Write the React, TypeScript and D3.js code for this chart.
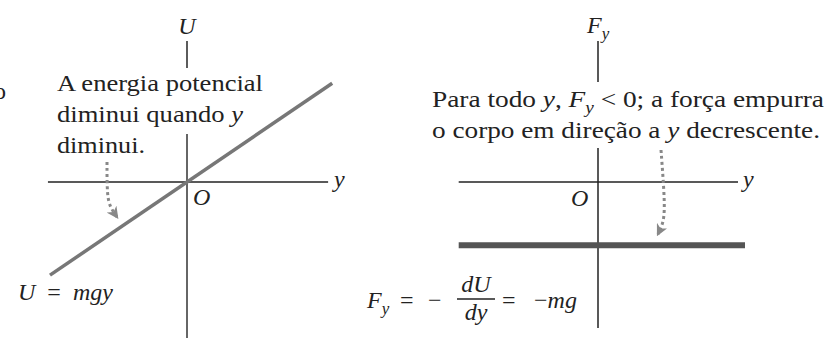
import React, { useEffect, useRef } from "react";
import * as d3 from "d3";

// ---- data (physics values, in arbitrary units) ----
const yRange = [-1.0, 1.06];          // y extent of U = mgy line (left panel)
const mgValue = [0.68];               // m*g
const forceYRange = [-0.995, 1.05];   // y extent of Fy = -mg line (right panel)
const leftNote = ["A energia potencial", "diminui quando ", "diminui."];
const rightNote = ["Para todo ", ", ", " < 0; a força empurra", "o corpo em direção a ", " decrescente."];

const W = 833, H = 339;
const FS = 24;
const FAMILY = "\"Liberation Serif\", Tinos, \"Times New Roman\", FreeSerif, \"Noto Serif\", \"DejaVu Serif\"";

type Part = { t: string; i?: boolean; sub?: boolean; up?: boolean };

export default function App() {
  const ref = useRef<SVGSVGElement | null>(null);

  useEffect(() => {
    const svg = d3.select(ref.current);
    svg.selectAll("*").remove();
    const mg = mgValue[0];
    const lx = d3.scaleLinear().domain([0, 1]).range([187, 324]);
    const ly = d3.scaleLinear().domain([0, 1]).range([182, 45]);
    const rx = d3.scaleLinear().domain([0, 1]).range([598, 738]);
    const ry = d3.scaleLinear().domain([0, 1]).range([182, 89]);
    const uLine = d3.line<number>().x((y) => lx(y)).y((y) => ly(mg * y));
    const fLine = d3.line<number>().x((y) => rx(y)).y(() => ry(-mg));
    const curve = d3.line<[number, number]>().curve(d3.curveBasis);

    svg.append("rect").attr("width", W).attr("height", H).attr("fill", "#fff");
    const defs = svg.append("defs");
    defs.append("marker").attr("id", "ah").attr("viewBox", "0 0 10 10").attr("refX", 8).attr("refY", 5)
      .attr("markerWidth", 4).attr("markerHeight", 4).attr("orient", "auto")
      .append("path").attr("d", "M0,0 L10,5 L0,10 L3,5 Z").attr("fill", "#888");

    const text = (x: number, y: number, parts: Part[], anchor = "start", len = 0) => {
      const t = svg.append("text").attr("x", x).attr("y", y).attr("text-anchor", anchor)
        .style("font-family", FAMILY).style("font-size", `${FS}px`).attr("fill", "#222");
      if (len) t.attr("textLength", len).attr("lengthAdjust", "spacingAndGlyphs");
      parts.forEach((p) => {
        const s = t.append("tspan").text(p.t);
        if (p.i) s.style("font-style", "italic");
        if (p.sub) s.style("font-size", "17px").attr("dy", 6);
        if (p.up) s.attr("dy", -6);
      });
      return t;
    };
    const line = (x1: number, y1: number, x2: number, y2: number, c: string, w: number) =>
      svg.append("line").attr("x1", x1).attr("y1", y1).attr("x2", x2).attr("y2", y2).attr("stroke", c).attr("stroke-width", w);

    // clipped letter at far left
    text(-6, 99, [{ t: "o" }]);

    // ---------- LEFT PANEL ----------
    text(187, 34, [{ t: "U", i: true }], "middle");
    line(187, 41, 187, 68, "#333", 1.6);
    line(187, 134, 187, 338, "#666", 2);
    line(lx(-1.015), 182, lx(1.03), 182, "#222", 1.5);
    text(334, 187, [{ t: "y", i: true }]);
    text(193, 205, [{ t: "O", i: true }]);
    svg.append("path").attr("d", uLine(yRange) || "").attr("stroke", "#777").attr("stroke-width", 3.5).attr("fill", "none");
    text(57, 91, [{ t: leftNote[0] }], "start", 206);
    text(57, 122, [{ t: leftNote[1] }, { t: "y", i: true }], "start", 186);
    text(57, 153, [{ t: leftNote[2] }], "start", 88);
    svg.append("path").attr("d", curve([[107, 162], [107, 195], [110, 207], [117, 217]]) || "")
      .attr("stroke", "#888").attr("stroke-width", 3).attr("stroke-dasharray", "3 3").attr("fill", "none")
      .attr("marker-end", "url(#ah)");
    text(18, 300, [{ t: "U", i: true }, { t: "  =  " }, { t: "mgy", i: true }]).attr("xml:space", "preserve").style("white-space", "pre");

    // ---------- RIGHT PANEL ----------
    text(587, 33, [{ t: "F", i: true }, { t: "y", i: true, sub: true }]);
    line(598, 41, 598, 82, "#222", 1.5);
    line(598, 148, 598, 328, "#222", 1.5);
    line(rx(-0.995), 182, rx(1.0), 182, "#222", 1.5);
    text(743, 187, [{ t: "y", i: true }]);
    text(571, 206, [{ t: "O", i: true }]);
    svg.append("path").attr("d", fLine(forceYRange) || "").attr("stroke", "#555").attr("stroke-width", 6).attr("fill", "none");
    text(432, 107, [{ t: rightNote[0] }, { t: "y", i: true }, { t: rightNote[1] }, { t: "F", i: true },
      { t: "y", i: true, sub: true }, { t: rightNote[2], up: true }], "start", 392);
    text(432, 138, [{ t: rightNote[3] }, { t: "y", i: true }, { t: rightNote[4] }], "start", 388);
    svg.append("path").attr("d", curve([[661, 150], [664, 190], [665, 220], [658, 234]]) || "")
      .attr("stroke", "#888").attr("stroke-width", 3).attr("stroke-dasharray", "3 3").attr("fill", "none")
      .attr("marker-end", "url(#ah)");

    // formula
    text(367, 308, [{ t: "F", i: true }, { t: "y", i: true, sub: true }]);
    text(400, 308, [{ t: "=" }]);
    text(428, 308, [{ t: "−" }]);
    text(476, 292, [{ t: "dU", i: true }], "middle");
    line(457, 299, 495, 299, "#222", 1.3);
    text(476, 320, [{ t: "dy", i: true }], "middle");
    text(502, 308, [{ t: "=" }]);
    text(534, 308, [{ t: "−" }, { t: "mg", i: true }]);
  }, []);

  return (
    <svg ref={ref} width={W} height={H}
      style={{ display: "block", position: "absolute", left: 0, top: 0, background: "#fff" }} />
  );
}
